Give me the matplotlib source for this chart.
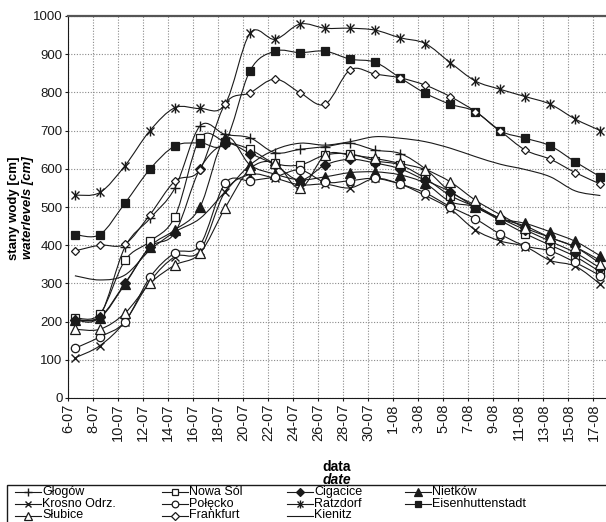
import numpy as np
import matplotlib
matplotlib.use("Agg")
import matplotlib.pyplot as plt
from matplotlib.path import Path
from matplotlib.patches import PathPatch, Rectangle
from matplotlib.lines import Line2D

plt.rcParams['font.family'] = ['Liberation Sans', 'DejaVu Sans']

# ---------------- data ----------------
tick_labels = ['6-07', '8-07', '10-07', '12-07', '14-07', '16-07', '18-07', '20-07',
               '22-07', '24-07', '26-07', '28-07', '30-07', '1-08', '3-08', '5-08',
               '7-08', '9-08', '11-08', '13-08', '15-08', '17-08']

glogow = [205, 215, 395, 470, 550, 712, 690, 681, 642, 651, 658, 667, 649, 640, 600, 540, 505, 470, 450, 420, 395, 360]
nowa_sol = [210, 220, 360, 410, 475, 680, 671, 651, 614, 610, 636, 639, 621, 610, 575, 530, 500, 465, 430, 400, 370, 330]
cigacice = [205, 212, 300, 395, 433, 600, 665, 640, 610, 570, 610, 625, 615, 600, 570, 540, 500, 470, 440, 410, 380, 340]
nietkow = [205, 210, 298, 396, 440, 500, 680, 610, 586, 571, 579, 590, 592, 584, 562, 514, 501, 470, 457, 435, 410, 372]
krosno = [105, 137, 200, 305, 370, 385, 540, 585, 575, 558, 560, 550, 575, 560, 530, 495, 440, 411, 396, 360, 345, 298]
polecko = [130, 160, 200, 316, 380, 400, 562, 569, 579, 597, 565, 569, 575, 560, 537, 501, 469, 429, 398, 385, 355, 320]
ratzdorf = [531, 538, 608, 700, 760, 758, 769, 955, 939, 979, 968, 968, 963, 943, 928, 878, 830, 808, 789, 769, 730, 700]
eisen = [428, 428, 510, 599, 660, 668, 670, 857, 908, 904, 908, 887, 879, 838, 798, 769, 750, 699, 680, 660, 618, 579]
slubice = [180, 180, 222, 300, 348, 379, 497, 600, 615, 549, 636, 636, 627, 614, 598, 566, 518, 480, 445, 420, 395, 352]
frankfurt = [385, 400, 403, 480, 568, 598, 769, 799, 835, 799, 769, 859, 848, 838, 819, 789, 750, 699, 649, 625, 590, 560]
kienitz = [320, 309, 322, 387, 435, 470, 540, 610, 650, 667, 662, 671, 684, 680, 671, 654, 632, 612, 598, 579, 542, 530]

series_names = ['Głogów', 'Nowa Sól', 'Cigacice', 'Nietków', 'Krosno Odrz.', 'Połęcko',
                'Ratzdorf', 'Eisenhuttenstadt', 'Słubice', 'Frankfurt', 'Kienitz']
series_values = [glogow, nowa_sol, cigacice, nietkow, krosno, polecko,
                 ratzdorf, eisen, slubice, frankfurt, kienitz]

# ---------------- styles ----------------
INK = '#1a1a1a'
styles = {
    'Głogów': dict(marker='+', ms=7, mfc=INK, mew=1.0),
    'Nowa Sól': dict(marker='s', ms=5.5, mfc='white', mew=0.9),
    'Cigacice': dict(marker='D', ms=5, mfc=INK, mew=0.9),
    'Nietków': dict(marker='^', ms=6.5, mfc=INK, mew=0.9),
    'Krosno Odrz.': dict(marker='x', ms=6, mfc=INK, mew=1.0),
    'Połęcko': dict(marker='o', ms=6, mfc='white', mew=0.9),
    'Ratzdorf': dict(marker='x', ms=6, mfc=INK, mew=1.0, extra='|'),
    'Eisenhuttenstadt': dict(marker='s', ms=5.5, mfc=INK, mew=0.9),
    'Słubice': dict(marker='^', ms=6.5, mfc='white', mew=0.9),
    'Frankfurt': dict(marker='D', ms=4.5, mfc='white', mew=0.9),
    'Kienitz': dict(marker=None),
}

W, H = 606, 522
fig = plt.figure(figsize=(W / 100, H / 100), dpi=100)
fig.patch.set_facecolor('white')


def fx(px):
    return px / W


def fy(py):
    return 1 - py / H


ax = fig.add_axes([fx(68), fy(398), (606 - 68) / W, (398 - 16) / H])

n = len(tick_labels)
tick_pos = np.arange(n) * 2
x = tick_pos + 0.55


def smooth_path(xs, ys):
    xs = np.asarray(xs, float)
    ys = np.asarray(ys, float)
    pts = np.column_stack([xs, ys])
    verts = [pts[0]]
    codes = [Path.MOVETO]
    m = len(pts)
    for i in range(m - 1):
        p0 = pts[i - 1] if i > 0 else pts[i]
        p1 = pts[i]
        p2 = pts[i + 1]
        p3 = pts[i + 2] if i + 2 < m else pts[i + 1]
        c1 = p1 + (p2 - p0) / 6.0
        c2 = p2 - (p3 - p1) / 6.0
        verts += [c1, c2, p2]
        codes += [Path.CURVE4] * 3
    return Path(verts, codes)


for name, vals in zip(series_names, series_values):
    st = styles[name]
    ax.add_patch(PathPatch(smooth_path(x, vals), fill=False, ec=INK, lw=0.8, zorder=3))
    if st['marker']:
        ax.plot(x, vals, ls='none', marker=st['marker'], ms=st['ms'], mfc=st['mfc'],
                mec=INK, mew=st['mew'], zorder=4)
        if st.get('extra'):
            ax.plot(x, vals, ls='none', marker=st['extra'], ms=st['ms'] * 1.1,
                    mec=INK, mew=st['mew'], zorder=4)

ax.set_xlim(0, 43)
ax.set_ylim(0, 1000)
ax.set_xticks(tick_pos)
ax.set_xticklabels(tick_labels, rotation=90, fontsize=10.5, va='top')
ax.set_yticks(np.arange(0, 1001, 100))
ax.set_yticklabels([str(v) for v in range(0, 1001, 100)], fontsize=9.5)
ax.tick_params(axis='both', direction='out', length=2.5, width=0.8, colors=INK, pad=1.5)
ax.grid(True, ls=(0, (1, 1.5)), color='#8a8a8a', lw=0.8, zorder=0)
ax.set_axisbelow(True)
ax.spines['right'].set_visible(False)
ax.spines['top'].set_color('#555555')
ax.spines['top'].set_linewidth(1.6)
ax.spines['left'].set_color(INK)
ax.spines['bottom'].set_color(INK)

# axis titles
fig.text(fx(14), fy(208), 'stany wody [cm]', rotation=90, ha='center', va='center',
         fontsize=9.5, fontweight='bold')
fig.text(fx(28), fy(208), 'waterlevels [cm]', rotation=90, ha='center', va='center',
         fontsize=9.5, fontweight='bold', fontstyle='italic')
fig.text(fx(337), fy(467), 'data', ha='center', va='center', fontsize=10, fontweight='bold')
fig.text(fx(337), fy(480), 'date', ha='center', va='center', fontsize=10,
         fontweight='bold', fontstyle='italic')

# legend (manual, row-major 4 columns)
fig.patches.append(Rectangle((fx(7), fy(540)), (620 - 7) / W, (540 - 485) / H,
                             transform=fig.transFigure, fill=False, ec=INK, lw=1.0))
col_x = [15, 162, 287, 405]
row_y = [492, 504, 515.5]
for i, name in enumerate(series_names):
    r, c = divmod(i, 4)
    x0 = col_x[c]
    yy = fy(row_y[r])
    st = styles[name]
    fig.add_artist(Line2D([fx(x0), fx(x0 + 26)], [yy, yy], transform=fig.transFigure,
                          color=INK, lw=0.8))
    if st['marker']:
        fig.add_artist(Line2D([fx(x0 + 13)], [yy], transform=fig.transFigure, ls='none',
                              marker=st['marker'], ms=st['ms'] * 0.8, mfc=st['mfc'],
                              mec=INK, mew=st['mew']))
        if st.get('extra'):
            fig.add_artist(Line2D([fx(x0 + 13)], [yy], transform=fig.transFigure, ls='none',
                                  marker=st['extra'], ms=st['ms'] * 0.85, mec=INK, mew=st['mew']))
    fig.text(fx(x0 + 27), yy, name, ha='left', va='center', fontsize=9)

fig.savefig('out.png', dpi=100)
